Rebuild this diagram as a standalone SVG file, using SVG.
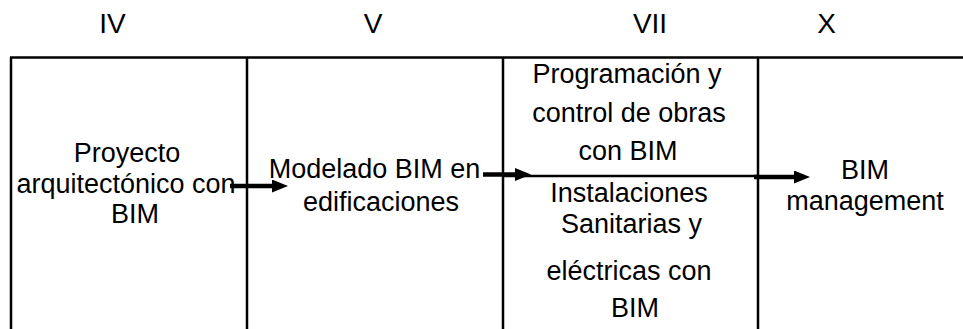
<svg xmlns="http://www.w3.org/2000/svg" width="963" height="329" viewBox="0 0 963 329">
  <style>
    .hdr { font-family: "Liberation Sans", Arial, sans-serif; font-size: 28px; fill: #000; text-anchor: middle; }
    .lbl { font-family: "Liberation Sans", Arial, sans-serif; font-size: 27px; fill: #000; text-anchor: middle; }
    .frame { stroke: #000; stroke-width: 2.5; fill: none; }
    .arrow { stroke: #000; stroke-width: 4.5; fill: none; marker-end: url(#head); }
  </style>
  <defs>
    <marker id="head" markerUnits="userSpaceOnUse" markerWidth="16" markerHeight="13" refX="2" refY="6.5" orient="auto">
      <path d="M0,0 L16,6.5 L0,13 Z" fill="#000"/>
    </marker>
  </defs>
  <rect width="963" height="329" fill="#fff"/>

  <g id="headers">
    <text class="hdr" x="112.5" y="33">IV</text>
    <text class="hdr" x="373" y="33">V</text>
    <text class="hdr" x="650" y="33">VII</text>
    <text class="hdr" x="826.5" y="33">X</text>
  </g>

  <g id="frame">
    <line class="frame" x1="10" y1="57.5" x2="963" y2="57.5"/>
    <line class="frame" x1="11" y1="57.5" x2="11" y2="329"/>
    <line class="frame" x1="247" y1="57.5" x2="247" y2="329"/>
    <line class="frame" x1="503" y1="57.5" x2="503" y2="329"/>
    <line class="frame" x1="758" y1="57.5" x2="758" y2="329"/>
    <line class="frame" x1="503" y1="176" x2="758" y2="176"/>
  </g>

  <g id="node-iv">
    <text class="lbl" x="127" y="162">Proyecto</text>
    <text class="lbl" x="126" y="193">arquitectónico con</text>
    <text class="lbl" x="135" y="223">BIM</text>
  </g>

  <g id="node-v">
    <text class="lbl" x="374.5" y="178">Modelado BIM en</text>
    <text class="lbl" x="381" y="211">edificaciones</text>
  </g>

  <g id="node-vii-a">
    <text class="lbl" x="627" y="83">Programación y</text>
    <text class="lbl" x="629" y="122">control de obras</text>
    <text class="lbl" x="628" y="160">con BIM</text>
  </g>

  <g id="node-vii-b">
    <text class="lbl" x="629" y="202">Instalaciones</text>
    <text class="lbl" x="631.5" y="233">Sanitarias y</text>
    <text class="lbl" x="629" y="280">eléctricas con</text>
    <text class="lbl" x="635" y="317">BIM</text>
  </g>

  <g id="node-x">
    <text class="lbl" x="865" y="179">BIM</text>
    <text class="lbl" x="865" y="210">management</text>
  </g>

  <g id="connectors">
    <path class="arrow" d="M230,186 H274"/>
    <path class="arrow" d="M483,174.5 H517"/>
    <path class="arrow" d="M754,177 H796"/>
  </g>
</svg>
